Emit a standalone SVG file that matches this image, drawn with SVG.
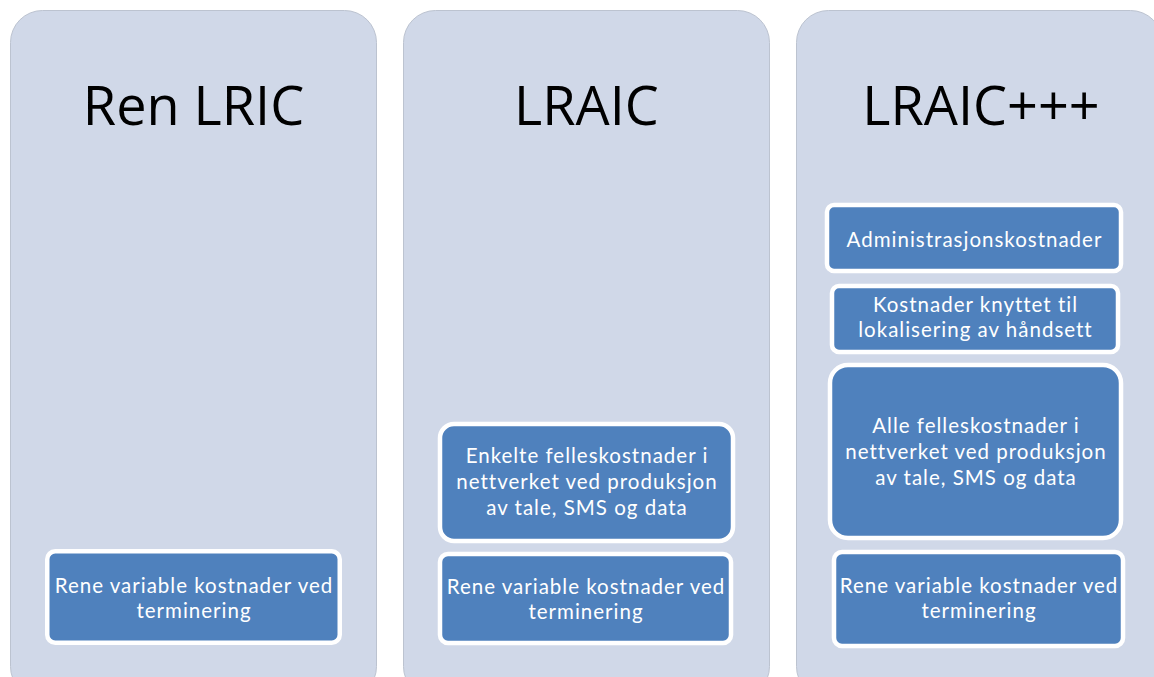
<svg xmlns="http://www.w3.org/2000/svg" width="1154" height="677" viewBox="0 0 1154 677">
<style>
  .panel { fill: #D0D8E8; stroke: #BCC3D0; stroke-width: 1; }
  .title { font-family: "Open Sans", "Noto Sans", sans-serif; font-size: 54px; fill: #000000; text-anchor: middle; }
  .box { fill: #4F81BD; stroke: #FFFFFF; stroke-width: 4.5; }
  .lbl { font-family: Lato, "Open Sans", sans-serif; font-size: 20.5px; letter-spacing: 1px; fill: #FFFFFF; text-anchor: middle; }
</style>
<rect width="1154" height="677" fill="#FFFFFF"/>
<g id="panel-ren-lric">
  <rect class="panel" x="10.5" y="10.5" width="366" height="688" rx="32" ry="32"/>
  <text class="title" x="193.5" y="125">Ren LRIC</text>
</g>
<g id="panel-lraic">
  <rect class="panel" x="403.5" y="10.5" width="366" height="688" rx="32" ry="32"/>
  <text class="title" x="586.5" y="125">LRAIC</text>
</g>
<g id="panel-lraic-ppp">
  <rect class="panel" x="796.5" y="10.5" width="366" height="688" rx="32" ry="32"/>
  <text class="title" x="981" y="125">LRAIC+++</text>
</g>
<g id="box-ren-variable-1">
  <rect class="box" x="47.25" y="551.25" width="292.5" height="91.5" rx="8"/>
  <text class="lbl" x="194" y="593">Rene variable kostnader ved</text>
  <text class="lbl" x="194" y="618">terminering</text>
</g>
<g id="box-enkelte">
  <rect class="box" x="440" y="424" width="293" height="117" rx="14"/>
  <text class="lbl" x="587" y="463">Enkelte felleskostnader i</text>
  <text class="lbl" x="587" y="489">nettverket ved produksjon</text>
  <text class="lbl" x="587" y="515">av tale, SMS og data</text>
</g>
<g id="box-ren-variable-2">
  <rect class="box" x="440" y="554" width="291" height="89" rx="8"/>
  <text class="lbl" x="586" y="594">Rene variable kostnader ved</text>
  <text class="lbl" x="586" y="619">terminering</text>
</g>
<g id="box-admin">
  <rect class="box" x="827" y="205" width="294" height="66" rx="7"/>
  <text class="lbl" x="974.5" y="247">Administrasjonskostnader</text>
</g>
<g id="box-lokalisering">
  <rect class="box" x="832" y="286" width="286" height="66" rx="7"/>
  <text class="lbl" x="975.5" y="312">Kostnader knyttet til</text>
  <text class="lbl" x="975.5" y="337">lokalisering av håndsett</text>
</g>
<g id="box-alle">
  <rect class="box" x="830" y="365" width="291" height="173" rx="18"/>
  <text class="lbl" x="976" y="433">Alle felleskostnader i</text>
  <text class="lbl" x="976" y="459">nettverket ved produksjon</text>
  <text class="lbl" x="976" y="485">av tale, SMS og data</text>
</g>
<g id="box-ren-variable-3">
  <rect class="box" x="834" y="552" width="289" height="94" rx="8"/>
  <text class="lbl" x="979" y="593">Rene variable kostnader ved</text>
  <text class="lbl" x="979" y="618">terminering</text>
</g>
<g id="connectors"></g>
</svg>
